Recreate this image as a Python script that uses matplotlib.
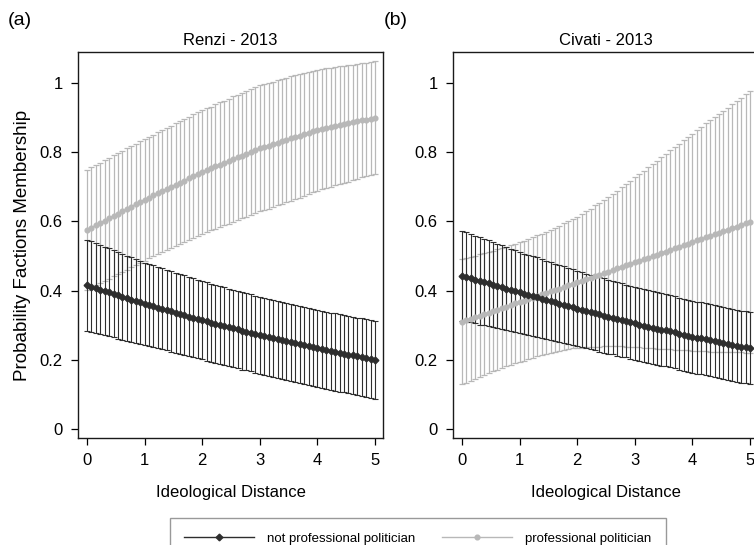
import matplotlib
matplotlib.use("Agg")
import matplotlib.pyplot as plt
import numpy as np

plt.rcParams['font.family'] = ['Liberation Sans', 'DejaVu Sans']

# evaluation points of ideological distance (66 steps from 0 to 5)
x_vals = np.linspace(0, 5, 66)

# Renzi - 2013, not professional politician
renzi_np_mean = [0.415, 0.411, 0.407, 0.403, 0.399, 0.395, 0.391, 0.386, 0.382, 0.378, 0.374, 0.370, 0.366,
                 0.362, 0.358, 0.355, 0.351, 0.347, 0.344, 0.340, 0.336, 0.332, 0.329, 0.325, 0.321, 0.318,
                 0.314, 0.311, 0.307, 0.304, 0.301, 0.297, 0.294, 0.291, 0.288, 0.284, 0.281, 0.278, 0.274,
                 0.271, 0.268, 0.265, 0.262, 0.259, 0.256, 0.253, 0.251, 0.248, 0.245, 0.242, 0.239, 0.236,
                 0.233, 0.230, 0.228, 0.225, 0.223, 0.220, 0.218, 0.215, 0.213, 0.210, 0.208, 0.205, 0.203,
                 0.200]
renzi_np_ci = [0.132, 0.131, 0.130, 0.129, 0.128, 0.127, 0.126, 0.125, 0.124, 0.123, 0.122, 0.121, 0.120,
               0.119, 0.119, 0.118, 0.118, 0.117, 0.117, 0.116, 0.116, 0.115, 0.115, 0.114, 0.114, 0.113,
               0.113, 0.113, 0.113, 0.113, 0.112, 0.112, 0.112, 0.112, 0.112, 0.112, 0.111, 0.111, 0.111,
               0.111, 0.111, 0.111, 0.111, 0.111, 0.111, 0.111, 0.111, 0.111, 0.111, 0.111, 0.111, 0.111,
               0.111, 0.111, 0.111, 0.111, 0.112, 0.112, 0.112, 0.112, 0.112, 0.112, 0.113, 0.113, 0.113,
               0.113]

# Renzi - 2013, professional politician
renzi_p_mean = [0.575, 0.582, 0.589, 0.595, 0.602, 0.609, 0.616, 0.622, 0.629, 0.636, 0.643, 0.649, 0.656,
                0.663, 0.669, 0.675, 0.681, 0.688, 0.694, 0.700, 0.706, 0.712, 0.718, 0.725, 0.731, 0.737,
                0.743, 0.748, 0.753, 0.759, 0.764, 0.769, 0.774, 0.780, 0.785, 0.790, 0.795, 0.801, 0.806,
                0.811, 0.815, 0.819, 0.823, 0.827, 0.831, 0.835, 0.840, 0.844, 0.848, 0.852, 0.856, 0.860,
                0.864, 0.867, 0.870, 0.872, 0.875, 0.878, 0.881, 0.883, 0.886, 0.889, 0.892, 0.894, 0.897,
                0.900]
renzi_p_ci = [0.174, 0.174, 0.174, 0.174, 0.175, 0.175, 0.175, 0.175, 0.175, 0.175, 0.176, 0.176, 0.176,
              0.176, 0.176, 0.176, 0.176, 0.176, 0.177, 0.177, 0.177, 0.177, 0.178, 0.178, 0.178, 0.178,
              0.179, 0.179, 0.179, 0.180, 0.180, 0.180, 0.181, 0.181, 0.181, 0.181, 0.182, 0.182, 0.182,
              0.182, 0.182, 0.182, 0.181, 0.181, 0.181, 0.180, 0.180, 0.179, 0.179, 0.178, 0.177, 0.176,
              0.175, 0.174, 0.173, 0.172, 0.171, 0.170, 0.169, 0.168, 0.167, 0.166, 0.165, 0.164, 0.164,
              0.163]

# Civati - 2013, not professional politician
civati_np_mean = [0.443, 0.439, 0.436, 0.432, 0.428, 0.425, 0.421, 0.417, 0.413, 0.410, 0.406, 0.402, 0.399,
                  0.395, 0.391, 0.388, 0.384, 0.381, 0.377, 0.373, 0.370, 0.366, 0.362, 0.359, 0.355, 0.352,
                  0.348, 0.345, 0.341, 0.338, 0.335, 0.331, 0.328, 0.325, 0.322, 0.318, 0.315, 0.312, 0.308,
                  0.305, 0.302, 0.299, 0.296, 0.293, 0.290, 0.287, 0.285, 0.282, 0.279, 0.276, 0.273, 0.270,
                  0.267, 0.264, 0.262, 0.259, 0.256, 0.254, 0.251, 0.249, 0.246, 0.243, 0.241, 0.238, 0.236,
                  0.233]
civati_np_ci = [0.130, 0.129, 0.128, 0.127, 0.126, 0.125, 0.124, 0.123, 0.122, 0.121, 0.120, 0.119, 0.118,
                0.117, 0.116, 0.116, 0.115, 0.115, 0.114, 0.113, 0.113, 0.112, 0.111, 0.111, 0.110, 0.110,
                0.109, 0.109, 0.108, 0.108, 0.108, 0.107, 0.107, 0.107, 0.106, 0.106, 0.106, 0.105, 0.105,
                0.105, 0.105, 0.105, 0.105, 0.105, 0.105, 0.105, 0.104, 0.104, 0.104, 0.104, 0.104, 0.104,
                0.104, 0.104, 0.104, 0.104, 0.104, 0.104, 0.104, 0.104, 0.104, 0.104, 0.104, 0.104, 0.104,
                0.104]

# Civati - 2013, professional politician
civati_p_mean = [0.310, 0.314, 0.319, 0.323, 0.328, 0.332, 0.336, 0.341, 0.345, 0.349, 0.354, 0.358, 0.363,
                 0.367, 0.371, 0.376, 0.380, 0.385, 0.389, 0.393, 0.398, 0.402, 0.406, 0.411, 0.415, 0.420,
                 0.424, 0.428, 0.433, 0.437, 0.442, 0.446, 0.451, 0.455, 0.460, 0.464, 0.469, 0.473, 0.478,
                 0.482, 0.486, 0.491, 0.495, 0.500, 0.504, 0.509, 0.513, 0.518, 0.522, 0.527, 0.531, 0.536,
                 0.540, 0.545, 0.549, 0.554, 0.558, 0.563, 0.567, 0.572, 0.576, 0.581, 0.585, 0.590, 0.594,
                 0.599]
civati_p_ci = [0.181, 0.180, 0.179, 0.178, 0.177, 0.176, 0.175, 0.174, 0.174, 0.173, 0.173, 0.173, 0.173,
               0.173, 0.173, 0.174, 0.174, 0.175, 0.176, 0.177, 0.178, 0.179, 0.181, 0.183, 0.185, 0.187,
               0.190, 0.193, 0.196, 0.200, 0.204, 0.208, 0.212, 0.216, 0.220, 0.225, 0.230, 0.235, 0.240,
               0.245, 0.250, 0.256, 0.261, 0.266, 0.272, 0.277, 0.282, 0.288, 0.293, 0.298, 0.303, 0.309,
               0.314, 0.319, 0.324, 0.329, 0.334, 0.339, 0.344, 0.348, 0.353, 0.358, 0.363, 0.368, 0.373,
               0.378]

dark = '#2e2e2e'
light = '#b8b8b8'

fig = plt.figure(figsize=(7.54, 5.45), dpi=100)
ax_a = fig.add_axes([0.1034, 0.1963, 0.4046, 0.7083])
ax_b = fig.add_axes([0.6008, 0.1963, 0.4046, 0.7083])

panels = [
    (ax_a, 'Renzi - 2013', renzi_np_mean, renzi_np_ci, renzi_p_mean, renzi_p_ci),
    (ax_b, 'Civati - 2013', civati_np_mean, civati_np_ci, civati_p_mean, civati_p_ci),
]

for ax, title, np_mean, np_ci, p_mean, p_ci in panels:
    ax.errorbar(x_vals, p_mean, yerr=p_ci, fmt='none', ecolor=light, elinewidth=0.9,
                capsize=2.2, capthick=0.9, zorder=2)
    ax.errorbar(x_vals, np_mean, yerr=np_ci, fmt='none', ecolor=dark, elinewidth=0.8,
                capsize=2.2, capthick=0.8, zorder=3)
    ax.plot(x_vals, p_mean, color=light, marker='o', markersize=3.4, lw=1, zorder=4,
            label='professional politician')
    ax.plot(x_vals, np_mean, color=dark, marker='D', markersize=3.4, lw=1, zorder=5,
            label='not professional politician')
    ax.set_xlim(-0.156, 5.139)
    ax.set_ylim(-0.026, 1.0896)
    ax.set_xticks([0, 1, 2, 3, 4, 5])
    ax.set_yticks([0, 0.2, 0.4, 0.6, 0.8, 1])
    ax.set_yticklabels(['0', '0.2', '0.4', '0.6', '0.8', '1'])
    ax.tick_params(labelsize=12, length=5, width=0.9, direction='out', pad=6)
    ax.set_title(title, fontsize=12, pad=5)
    ax.set_xlabel('Ideological Distance', fontsize=12, labelpad=12)
    for s in ax.spines.values():
        s.set_linewidth(1.0)
        s.set_color('#1a1a1a')

ax_a.set_ylabel('Probability Factions Membership', fontsize=13.5, labelpad=6)

fig.text(0.010, 0.955, '(a)', fontsize=14)
fig.text(0.509, 0.955, '(b)', fontsize=14)

handles, labels = ax_a.get_legend_handles_labels()
leg = fig.legend(handles[::-1], labels[::-1], loc='upper center', bbox_to_anchor=(0.554, 0.062),
                 ncol=2, fontsize=9.5, handlelength=5.3, handletextpad=1.0, columnspacing=2.0,
                 frameon=True, fancybox=False, borderpad=1.1)
leg.get_frame().set_edgecolor('#808080')
leg.get_frame().set_linewidth(1.0)

fig.savefig('out.png', dpi=100)
